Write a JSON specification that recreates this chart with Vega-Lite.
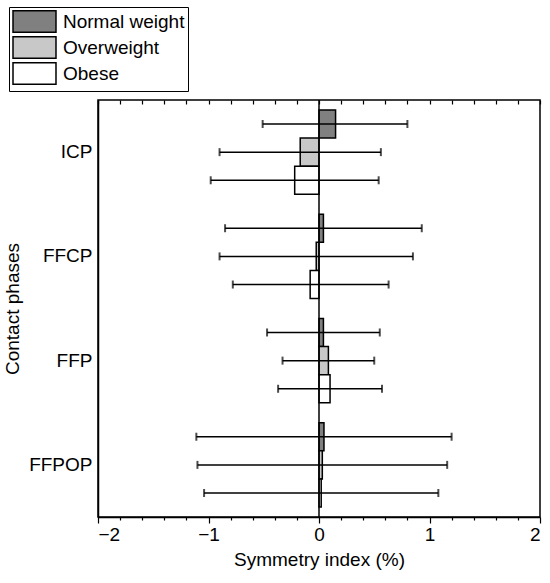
{
  "$schema": "https://vega.github.io/schema/vega-lite/v6.json",
  "width": 442,
  "height": 417,
  "autosize": {"type": "none"},
  "padding": {"left": 98, "top": 100, "right": 10, "bottom": 66},
  "config": {
    "font": "Liberation Sans",
    "view": {"stroke": "black", "strokeWidth": 1.5},
    "axis": {"domainColor": "black", "domainWidth": 1.5, "tickColor": "black", "tickWidth": 1.2, "labelColor": "black", "titleColor": "black", "labelFontSize": 19, "titleFontSize": 19, "titleFontWeight": "normal", "grid": false}
  },
  "data": {
    "values": [
      {"phase": "ICP", "group": "Normal weight", "mean": 0.15, "lo": -0.51, "hi": 0.80},
      {"phase": "ICP", "group": "Overweight", "mean": -0.17, "lo": -0.90, "hi": 0.56},
      {"phase": "ICP", "group": "Obese", "mean": -0.22, "lo": -0.98, "hi": 0.54},
      {"phase": "FFCP", "group": "Normal weight", "mean": 0.04, "lo": -0.85, "hi": 0.93},
      {"phase": "FFCP", "group": "Overweight", "mean": -0.025, "lo": -0.90, "hi": 0.85},
      {"phase": "FFCP", "group": "Obese", "mean": -0.08, "lo": -0.78, "hi": 0.63},
      {"phase": "FFP", "group": "Normal weight", "mean": 0.04, "lo": -0.47, "hi": 0.55},
      {"phase": "FFP", "group": "Overweight", "mean": 0.085, "lo": -0.33, "hi": 0.50},
      {"phase": "FFP", "group": "Obese", "mean": 0.10, "lo": -0.37, "hi": 0.57},
      {"phase": "FFPOP", "group": "Normal weight", "mean": 0.045, "lo": -1.11, "hi": 1.20},
      {"phase": "FFPOP", "group": "Overweight", "mean": 0.03, "lo": -1.10, "hi": 1.16},
      {"phase": "FFPOP", "group": "Obese", "mean": 0.02, "lo": -1.04, "hi": 1.08}
    ]
  },
  "layer": [
    {
      "mark": {"type": "bar", "stroke": "black", "strokeWidth": 1.5},
      "encoding": {
        "y": {"field": "phase", "type": "nominal", "sort": ["ICP", "FFCP", "FFP", "FFPOP"], "scale": {"paddingInner": 0.19, "paddingOuter": 0.095},
          "axis": {"title": "Contact phases", "ticks": false, "labelPadding": 6, "titlePadding": 6}},
        "yOffset": {"field": "group", "type": "nominal", "sort": ["Normal weight", "Overweight", "Obese"]},
        "x": {"field": "mean", "type": "quantitative", "scale": {"domain": [-2, 2], "nice": false},
          "axis": {"title": "Symmetry index (%)", "orient": "bottom",
            "values": [-2, -1.8, -1.6, -1.4, -1.2, -1, -0.8, -0.6, -0.4, -0.2, 0, 0.2, 0.4, 0.6, 0.8, 1, 1.2, 1.4, 1.6, 1.8, 2],
            "labelExpr": "abs(datum.value - round(datum.value)) < 0.001 ? format(datum.value, 'd') : ''",
            "labelOverlap": false,
            "tickSize": {"condition": {"test": "abs(datum.value - round(datum.value)) < 0.001", "value": 6}, "value": 3},
            "labelPadding": 2, "titlePadding": 6}},
        "x2": {"datum": 0},
        "fill": {"field": "group", "type": "nominal", "sort": ["Normal weight", "Overweight", "Obese"],
          "scale": {"domain": ["Normal weight", "Overweight", "Obese"], "range": ["#808080", "#c8c8c8", "#ffffff"]},
          "legend": {"orient": "none", "legendX": -89, "legendY": -93, "title": null, "strokeColor": "black", "padding": 3,
            "symbolType": "M-2,-1H2V1H-2Z", "symbolSize": 462, "symbolOffset": 11, "symbolStrokeColor": "black", "symbolStrokeWidth": 1.5,
            "labelFontSize": 19, "labelColor": "black", "rowPadding": -6.5, "labelOffset": 17}}
      }
    },
    {
      "mark": {"type": "rule", "color": "black", "strokeWidth": 1.5},
      "encoding": {
        "y": {"field": "phase", "type": "nominal", "sort": ["ICP", "FFCP", "FFP", "FFPOP"]},
        "yOffset": {"field": "group", "type": "nominal", "sort": ["Normal weight", "Overweight", "Obese"]},
        "x": {"field": "lo", "type": "quantitative", "axis": null},
        "x2": {"field": "hi"}
      }
    },
    {
      "mark": {"type": "tick", "color": "black", "thickness": 2, "size": 8},
      "encoding": {
        "y": {"field": "phase", "type": "nominal", "sort": ["ICP", "FFCP", "FFP", "FFPOP"]},
        "yOffset": {"field": "group", "type": "nominal", "sort": ["Normal weight", "Overweight", "Obese"]},
        "x": {"field": "lo", "type": "quantitative", "axis": null}
      }
    },
    {
      "mark": {"type": "tick", "color": "black", "thickness": 2, "size": 8},
      "encoding": {
        "y": {"field": "phase", "type": "nominal", "sort": ["ICP", "FFCP", "FFP", "FFPOP"]},
        "yOffset": {"field": "group", "type": "nominal", "sort": ["Normal weight", "Overweight", "Obese"]},
        "x": {"field": "hi", "type": "quantitative", "axis": null}
      }
    },
    {
      "data": {"values": [{"z": 0}]},
      "mark": {"type": "rule", "color": "black", "strokeWidth": 1.5},
      "encoding": {
        "x": {"field": "z", "type": "quantitative",
          "axis": {"orient": "top", "title": null, "labels": false, "domain": false, "tickSize": -4,
            "values": [-2, -1.8, -1.6, -1.4, -1.2, -1, -0.8, -0.6, -0.4, -0.2, 0, 0.2, 0.4, 0.6, 0.8, 1, 1.2, 1.4, 1.6, 1.8, 2]}}
      }
    }
  ]
}
